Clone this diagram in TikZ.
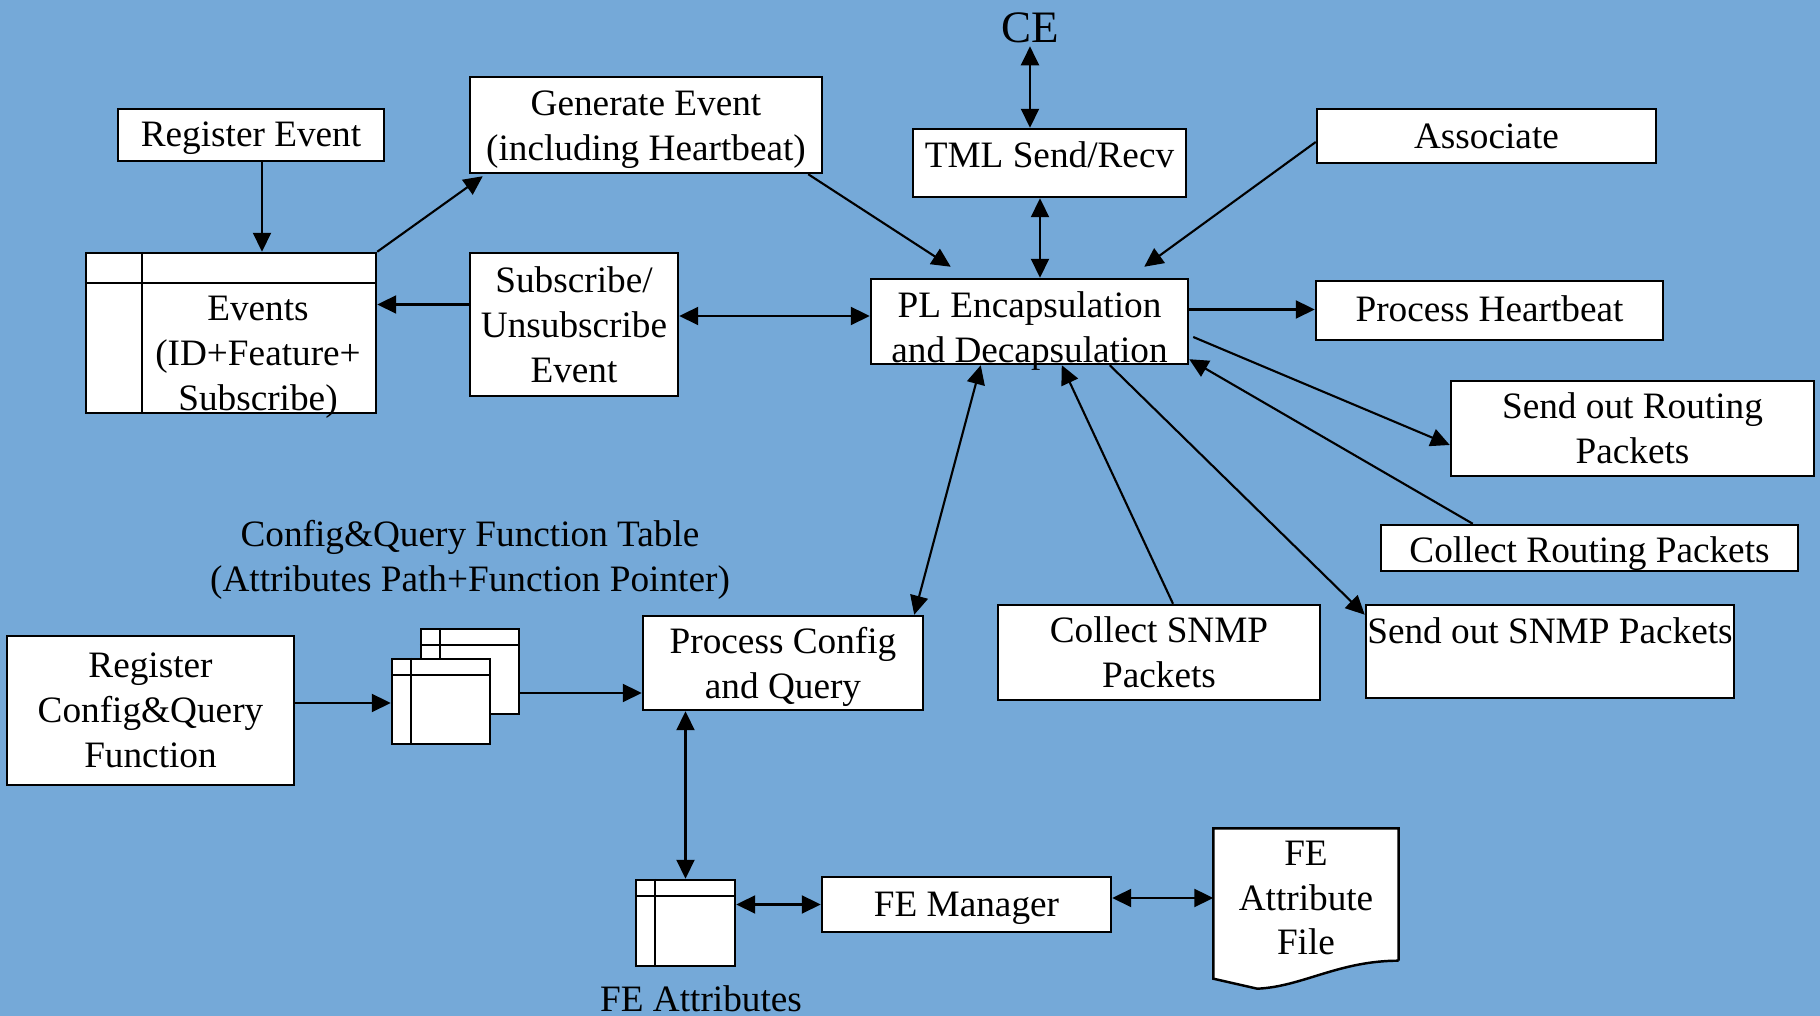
\documentclass[tikz,border=0pt]{standalone}
\usepackage{fontspec}
\setmainfont{Liberation Serif}
\usetikzlibrary{arrows.meta,calc}
\definecolor{bgblue}{RGB}{117,169,216}
\tikzset{
	box/.style={draw, fill=white, line width=0.7pt, inner sep=0.02cm, align=center, font=\fontsize{10.6}{12.8}\selectfont},
	lbl/.style={inner sep=0pt, align=center, font=\fontsize{10.6}{12.8}\selectfont},
	tbl/.style={draw, fill=white, line width=0.7pt, inner sep=0pt},
	arr/.style={-{Triangle[length=0.19cm,width=0.18cm]}, line width=0.6pt},
	dblarr/.style={{Triangle[length=0.19cm,width=0.18cm]}-{Triangle[length=0.19cm,width=0.18cm]}, line width=0.6pt}
}

\begin{document}
\begin{tikzpicture}
	\fill[bgblue] (0,0) rectangle (18.20,10.16);
	\useasboundingbox (0,0) rectangle (18.20,10.16);

	\node[box, minimum width=2.66cm, minimum height=0.52cm, text height=0.32cm] (regev) at (2.51,8.81) {Register Event};
	\node[tbl, minimum width=2.90cm, minimum height=1.60cm] (events) at (2.31,6.83) {};
	\draw[line width=0.7pt] ([xshift=0.57cm]events.north west) -- ([xshift=0.57cm]events.south west);
	\draw[line width=0.7pt] ([yshift=-0.31cm]events.north west) -- ([yshift=-0.31cm]events.north east);
	\node[lbl] (eventstext) at (2.58,6.585) {Events\\(ID+Feature+\\Subscribe)};

	\node[box, minimum width=3.52cm, minimum height=0.96cm] (gen) at (6.46,8.91) {};
	\node[lbl, yshift=-0.046cm] (gentext) at (gen) {Generate Event\\(including Heartbeat)};
	\node[box, minimum width=2.08cm, minimum height=1.43cm] (sub) at (5.74,6.915) {Subscribe/\\Unsubscribe\\Event};

	\node[lbl, font=\fontsize{12.8}{14}\selectfont, inner sep=0.03cm] (ce) at (10.30,9.885) {CE};
	\node[box, minimum width=2.73cm, minimum height=0.68cm, text depth=0.17cm] (tml) at (10.495,8.53) {TML Send/Recv};
	\node[box, minimum width=3.17cm, minimum height=0.85cm] (pl) at (10.295,6.945) {};
	\node[lbl, yshift=-0.093cm] (pltext) at (pl) {PL Encapsulation\\and Decapsulation};

	\node[box, minimum width=3.39cm, minimum height=0.54cm] (assoc) at (14.865,8.80) {Associate};
	\node[box, minimum width=3.47cm, minimum height=0.59cm, text depth=0.046cm] (hb) at (14.895,7.055) {Process Heartbeat};
	\node[box, minimum width=3.63cm, minimum height=0.95cm] (sendrt) at (16.325,5.875) {Send out Routing\\Packets};
	\node[box, minimum width=4.17cm, minimum height=0.46cm, inner ysep=0pt, text height=0.37cm] (collrt) at (15.895,4.68) {Collect Routing Packets};
	\node[box, minimum width=3.68cm, minimum height=0.93cm, inner xsep=0pt, text depth=0.42cm] (sendsnmp) at (15.50,3.645) {Send out SNMP Packets};
	\node[box, minimum width=3.22cm, minimum height=0.95cm] (collsnmp) at (11.59,3.635) {Collect SNMP\\Packets};

	\node[lbl] (cqlabel) at (4.70,4.56) {Config\&Query Function Table\\(Attributes Path+Function Pointer)};
	\node[box, minimum width=2.87cm, minimum height=1.49cm] (regcq) at (1.505,3.055) {Register\\Config\&Query\\Function};
	\node[tbl, minimum width=0.98cm, minimum height=0.85cm] (back) at (4.70,3.445) {};
	\draw[line width=0.7pt] ([xshift=0.2cm]back.north west) -- ([xshift=0.2cm]back.south west);
	\draw[line width=0.7pt] ([yshift=-0.17cm]back.north west) -- ([yshift=-0.17cm]back.north east);
	\node[tbl, minimum width=0.98cm, minimum height=0.85cm] (front) at (4.41,3.145) {};
	\draw[line width=0.7pt] ([xshift=0.2cm]front.north west) -- ([xshift=0.2cm]front.south west);
	\draw[line width=0.7pt] ([yshift=-0.17cm]front.north west) -- ([yshift=-0.17cm]front.north east);
	\node[box, minimum width=2.80cm, minimum height=0.94cm] (pcq) at (7.83,3.53) {};
	\node[lbl, yshift=-0.035cm] (pcqtext) at (pcq) {Process Config\\and Query};

	\node[tbl, minimum width=0.99cm, minimum height=0.86cm] (feattr) at (6.855,0.93) {};
	\draw[line width=0.7pt] ([xshift=0.2cm]feattr.north west) -- ([xshift=0.2cm]feattr.south west);
	\draw[line width=0.7pt] ([yshift=-0.17cm]feattr.north west) -- ([yshift=-0.17cm]feattr.north east);
	\node[lbl] (feattrlabel) at (7.01,0.17) {FE Attributes};
	\node[box, minimum width=2.89cm, minimum height=0.55cm, text height=0.318cm] (fem) at (9.665,1.115) {FE Manager};

	\node[minimum width=1.84cm, minimum height=1.31cm, inner sep=0pt] (fefile) at (13.06,1.215) {};
	\draw[line width=0.7pt, fill=white] (fefile.south east) -- (fefile.north east) -- (fefile.north west) -- ([yshift=-0.18cm]fefile.south west) -- ([xshift=0.44cm,yshift=-0.28cm]fefile.south west) .. controls +(0.45,0.02) and +(-0.6,0) .. (fefile.south east);
	\node[lbl] (fefiletext) at (13.06,1.18) {FE\\Attribute\\File};

	\draw[arr] ([xshift=0.11cm]regev.south) -- ([xshift=0.11cm]regev.south |- events.north);
	\draw[arr] (events.north east) -- ([xshift=0.14cm,yshift=-0.02cm]gen.south west);
	\draw[arr] ([yshift=0.2cm]sub.west) -- ([yshift=0.2cm]sub.west -| events.east);
	\draw[dblarr] ([yshift=0.055cm]pl.west -| sub.east) -- ([yshift=0.055cm]pl.west);
	\draw[arr] ([xshift=-0.15cm]gen.south east) -- ([xshift=0.81cm,yshift=0.11cm]pl.north west);
	\draw[arr] ([yshift=-0.06cm]assoc.west) -- ([xshift=-0.45cm,yshift=0.11cm]pl.north east);
	\draw[dblarr] ([xshift=-0.095cm]tml.south) -- ([xshift=-0.095cm]tml.south |- pl.north);
	\draw[dblarr] (ce.south) -- (ce.south |- tml.north);

	\draw[arr] ([yshift=0.12cm]pl.east) -- ([yshift=0.12cm]pl.east -| hb.west);
	\draw[arr] ([xshift=0.04cm,yshift=-0.155cm]pl.east) -- ([yshift=-0.165cm]sendrt.west);
	\draw[arr] ([xshift=0.93cm]collrt.north west) -- ([yshift=0.06cm]pl.south east);
	\draw[arr] ([xshift=2.4cm]pl.south west) -- ([yshift=-0.11cm]sendsnmp.north west);
	\draw[arr] ([xshift=0.14cm]collsnmp.north) -- ([xshift=1.92cm]pl.south west);
	\draw[dblarr] ([xshift=-0.1cm]pcq.north east) -- ([xshift=1.11cm]pl.south west);

	\draw[arr] ([yshift=0.075cm]regcq.east) -- ([yshift=0.075cm]regcq.east -| front.west);
	\draw[arr] ([yshift=-0.3cm]pcq.west -| back.east) -- ([yshift=-0.3cm]pcq.west);
	\draw[dblarr] (feattr.north |- pcq.south) -- (feattr.north);
	\draw[dblarr] (feattr.east |- fem.west) -- (fem.west);
	\draw[dblarr] ([yshift=0.065cm]fem.east) -- ([yshift=0.065cm]fem.east -| fefile.west);
\end{tikzpicture}
\end{document}
